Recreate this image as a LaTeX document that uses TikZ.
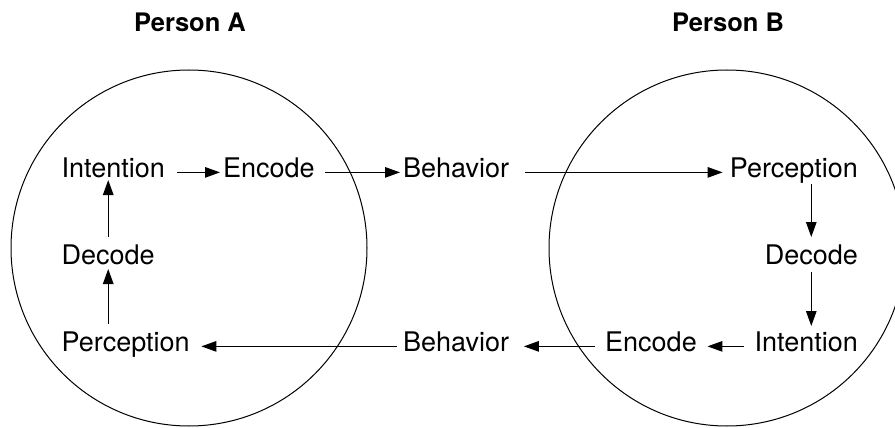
\documentclass[tikz,border=0pt]{standalone}
\usepackage{fontspec}
\setmainfont{TeX Gyre Heros}
\usetikzlibrary{arrows.meta,calc}

\begin{document}
\begin{tikzpicture}[x=1pt,y=-1pt,
  word/.style={inner sep=0pt,font=\fontsize{27}{32}\selectfont},
  person/.style={inner sep=0pt,font=\fontsize{25.5}{30}\selectfont\bfseries},
  ring/.style={draw=black,line width=1pt},
  arr/.style={draw=black,line width=1.2pt,-{Triangle[length=15pt,width=10.5pt]}}]
  \useasboundingbox (0,0) rectangle (895,428);

  % the two people
  \draw[ring] (189,248) circle[radius=178];
  \draw[ring] (727,248) circle[radius=178];
  \node[person,anchor=base] (ta) at (190,32) {Person A};
  \node[person,anchor=base] (tb) at (728,32) {Person B};

  % Person A, left column
  \node[word,anchor=base west] (iA) at (61.5,177) {Intention};
  \node[word,anchor=base west] (dA) at (61.5,264) {Decode};
  \node[word,anchor=base west] (pA) at (61.5,351) {Perception};
  \node[word,anchor=base west] (eA) at (223,177) {Encode};

  % behaviour passed between the two
  \node[word,anchor=base west] (bT) at (403,177) {Behavior};
  \node[word,anchor=base west] (bB) at (403,351) {Behavior};

  % Person B, right column
  \node[word,anchor=base east] (pB) at (858,177) {Perception};
  \node[word,anchor=base east] (dB) at (858,264) {Decode};
  \node[word,anchor=base east] (iB) at (858,351) {Intention};
  \node[word,anchor=base west] (eB) at (605,351) {Encode};

  % top row, A to B
  \draw[arr] ([xshift=12pt,yshift=2pt]iA.mid east) -- ([xshift=-3pt,yshift=2pt]eA.mid west);
  \draw[arr] ([xshift=10.5pt,yshift=2pt]eA.mid east) -- ([xshift=-3pt,yshift=2pt]bT.mid west);
  \draw[arr] ([xshift=15.5pt,yshift=2pt]bT.mid east) -- ([xshift=-7pt,yshift=2pt]pB.mid west);

  % B processes downwards
  \draw[arr] ($(dB.base |- pB.base)+(0,7)$) -- ($(dB.base)+(0,-27)$);
  \draw[arr] ($(dB.base)+(0,8)$) -- ($(dB.base |- iB.base)+(0,-25)$);

  % bottom row, B back to A
  \draw[arr] ([xshift=-10.5pt,yshift=2pt]iB.mid west) -- ([xshift=10.5pt,yshift=2pt]eB.mid east);
  \draw[arr] ([xshift=-10pt,yshift=2pt]eB.mid west) -- ([xshift=14.5pt,yshift=2pt]bB.mid east);
  \draw[arr] ([xshift=-6pt,yshift=2pt]bB.mid west) -- ([xshift=11.5pt,yshift=2pt]pA.mid east);

  % A processes upwards
  \draw[arr] ($(dA.base |- pA.base)+(0,-27)$) -- ($(dA.base)+(0,5)$);
  \draw[arr] ($(dA.base)+(0,-27)$) -- ($(dA.base |- iA.base)+(0,3)$);
\end{tikzpicture}
\end{document}
